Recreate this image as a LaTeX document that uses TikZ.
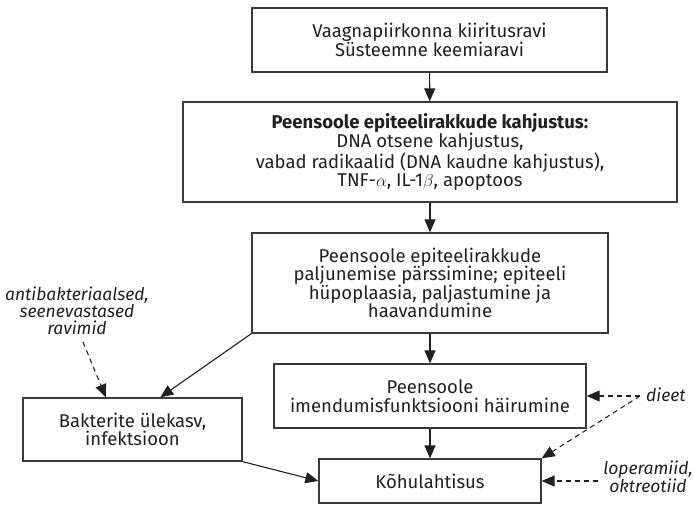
\documentclass[tikz,border=0pt]{standalone}
\usepackage{fontspec}
\setmainfont{Fira Sans}
\usetikzlibrary{arrows.meta,calc}
\definecolor{ink}{HTML}{231F20}
\definecolor{edge}{HTML}{3A3A3A}
\tikzset{
  box/.style={draw=edge, line width=1.3pt, align=center, inner sep=0pt, text=ink,
    font=\fontsize{18.5}{18.5}\selectfont},
  note/.style={align=center, inner sep=0pt, text=ink,
    font=\fontsize{17.5}{17}\selectfont\itshape},
  conn/.style={draw=ink, line width=1.1pt, -{Triangle[length=13pt,width=11pt]}},
  dconn/.style={conn, dash pattern=on 5pt off 4pt},
}
\begin{document}
\begin{tikzpicture}[x=1pt,y=-1pt]
\useasboundingbox (0,0) rectangle (694,505);
\node[box, minimum width=355pt, minimum height=64pt] (b1) at (429.5,40)
  {Vaagnapiirkonna kiiritusravi\\Süsteemne keemiaravi};
\node[box, minimum width=494pt, minimum height=100pt] (b2) at (430,152)
  {\textbf{Peensoole epiteelirakkude kahjustus:}\\DNA otsene kahjustus,\\vabad radikaalid (DNA kaudne kahjustus),\\TNF-$\alpha$, IL-1$\beta$, apoptoos};
\node[box, minimum width=356pt, minimum height=100pt] (b3) at (430,283)
  {Peensoole epiteelirakkude\\paljunemise pärssimine; epiteeli\\hüpoplaasia, paljastumine ja\\haavandumine};
\node[box, minimum width=312pt, minimum height=64pt] (b4) at (430,396)
  {Peensoole\\imendumisfunktsiooni häirumine};
\node[box, minimum width=219pt, minimum height=63pt] (b5) at (132.5,429.5)
  {Bakterite ülekasv,\\infektsioon};
\node[box, minimum width=222pt, minimum height=44pt] (b6) at (430,481)
  {Kõhulahtisus};
\node[note] (anti) at (77,311) {antibakteriaalsed,\\seenevastased\\ravimid};
\node[note, anchor=west] (diet) at (646,395) {dieet};
\node[note] (lop) at (648,477) {loperamiid,\\oktreotiid};
\coordinate (antiend) at (83,342);
\coordinate (dietstart) at (640,396);
\draw[conn] (b1) -- (b2);
\draw[conn] (b2) -- (b3);
\draw[conn] (b3) -- (b4);
\draw[conn] (b4) -- (b6);
\draw[conn] (b3.south west) -- ($(b5.north west)!0.626!(b5.north east)$);
\draw[conn] (b5.south east) -- (b6.west);
\draw[dconn] (antiend) -- ($(b5.north west)!0.379!(b5.north east)$);
\draw[dconn] (dietstart) -- (b4.east |- dietstart);
\draw[dconn] (dietstart) -- (b6.north east);
\coordinate (lopstart) at ($(lop.west |- b6.east)+(-5,0)$);
\draw[dconn] (lopstart) -- (b6.east);
\end{tikzpicture}
\end{document}
